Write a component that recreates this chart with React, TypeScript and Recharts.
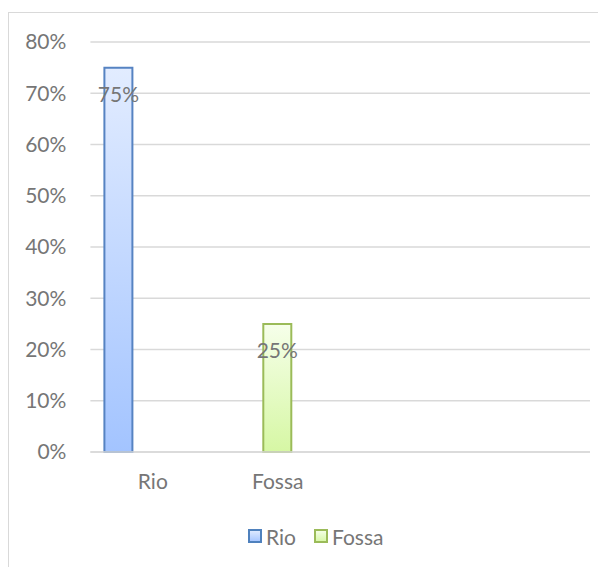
import React from "react";
import { BarChart, Bar, XAxis, YAxis, CartesianGrid, Legend, LabelList } from "recharts";

const categories = ["Rio", "Fossa", "", ""];
const rioValues: (number | null)[] = [0.75, null, null, null];
const fossaValues: (number | null)[] = [null, 0.25, null, null];
const yTicks = [0, 0.1, 0.2, 0.3, 0.4, 0.5, 0.6, 0.7, 0.8];
const seriesNames = ["Rio", "Fossa"];

const data = categories.map((c, i) => ({
  cat: c,
  rio: rioValues[i],
  fossa: fossaValues[i],
  spare: null as number | null,
}));

const FONT = "Lato, 'Open Sans', sans-serif";
const TEXT = "#767676";
const FS = 21;
const pct = (v: any) => (v == null ? "" : `${Math.round(Number(v) * 100)}%`);

const LegendContent = () => (
  <div style={{ display: "flex", alignItems: "center", fontFamily: FONT, fontSize: FS, color: TEXT, height: 24 }}>
    <svg width={14} height={14} style={{ marginRight: 4 }}>
      <rect x={1} y={1} width={12} height={12} fill="url(#gRioL)" stroke="#4f81bd" strokeWidth={2} />
    </svg>
    <span style={{ marginRight: 18 }}>{seriesNames[0]}</span>
    <svg width={14} height={14} style={{ marginRight: 4 }}>
      <rect x={1} y={1} width={12} height={12} fill="url(#gFosL)" stroke="#9bbb59" strokeWidth={2} />
    </svg>
    <span>{seriesNames[1]}</span>
  </div>
);

export default function App() {
  return (
    <div style={{ position: "relative", width: 598, height: 559 }}>
      <style>{"body{overflow:hidden}"}</style>
      <svg width={0} height={0} style={{ position: "absolute" }}>
        <defs>
          <linearGradient id="gRioL" x1="0" y1="0" x2="0" y2="1">
            <stop offset="0%" stopColor="#e2ecff" />
            <stop offset="100%" stopColor="#a3c4ff" />
          </linearGradient>
          <linearGradient id="gFosL" x1="0" y1="0" x2="0" y2="1">
            <stop offset="0%" stopColor="#f6ffea" />
            <stop offset="100%" stopColor="#d6f7a4" />
          </linearGradient>
        </defs>
      </svg>
      <div
        style={{
          position: "absolute",
          left: 0,
          top: 4,
          width: 620,
          height: 600,
          border: "1.5px solid #d9d9d9",
        }}
      />
      <div style={{ position: "absolute", left: 0, top: 0 }}>
        <BarChart
          width={598}
          height={559}
          data={data}
          margin={{ top: 34, right: 16, left: 0, bottom: 55 }}
          barGap={40}
        >
          <defs>
            <linearGradient id="gRio" x1="0" y1="0" x2="0" y2="1">
              <stop offset="0%" stopColor="#e2ecff" />
              <stop offset="100%" stopColor="#a3c4ff" />
            </linearGradient>
            <linearGradient id="gFos" x1="0" y1="0" x2="0" y2="1">
              <stop offset="0%" stopColor="#f6ffea" />
              <stop offset="100%" stopColor="#d6f7a4" />
            </linearGradient>
          </defs>
          <CartesianGrid vertical={false} stroke="#d9d9d9" strokeWidth={1.5} />
          <XAxis
            xAxisId="a"
            dataKey="cat"
            height={60}
            axisLine={{ stroke: "#d9d9d9", strokeWidth: 1.5 }}
            tickLine={false}
            tickSize={0}
            tickMargin={22}
            interval={0}
            tick={{ fill: TEXT, fontSize: FS, fontFamily: FONT }}
          />
          <XAxis xAxisId="b" dataKey="cat" hide />
          <YAxis
            width={82.4}
            domain={[0, 0.8]}
            ticks={yTicks}
            tickFormatter={pct}
            axisLine={false}
            tickLine={false}
            tickSize={0}
            tickMargin={24}
            tick={{ fill: TEXT, fontSize: FS, fontFamily: FONT }}
          />
          <Legend
            verticalAlign="middle"
            align="center"
            content={<LegendContent />}
            wrapperStyle={{ top: 516, left: 240, width: "auto" }}
          />
          <Bar
            xAxisId="a"
            dataKey="rio"
            name="Rio"
            barSize={28}
            fill="url(#gRio)"
            stroke="#5683c2"
            strokeWidth={2}
            isAnimationActive={false}
          >
            <LabelList
              dataKey="rio"
              position="insideTop"
              offset={19}
              formatter={pct}
              fill={TEXT}
              fontSize={FS}
              fontFamily={FONT}
            />
          </Bar>
          <Bar xAxisId="a" dataKey="spare" barSize={28} legendType="none" isAnimationActive={false} />
          <Bar
            xAxisId="b"
            dataKey="fossa"
            name="Fossa"
            barSize={28}
            fill="url(#gFos)"
            stroke="#9bbb59"
            strokeWidth={2}
            isAnimationActive={false}
          >
            <LabelList
              dataKey="fossa"
              position="insideTop"
              offset={19}
              formatter={pct}
              fill={TEXT}
              fontSize={FS}
              fontFamily={FONT}
            />
          </Bar>
        </BarChart>
      </div>
    </div>
  );
}
